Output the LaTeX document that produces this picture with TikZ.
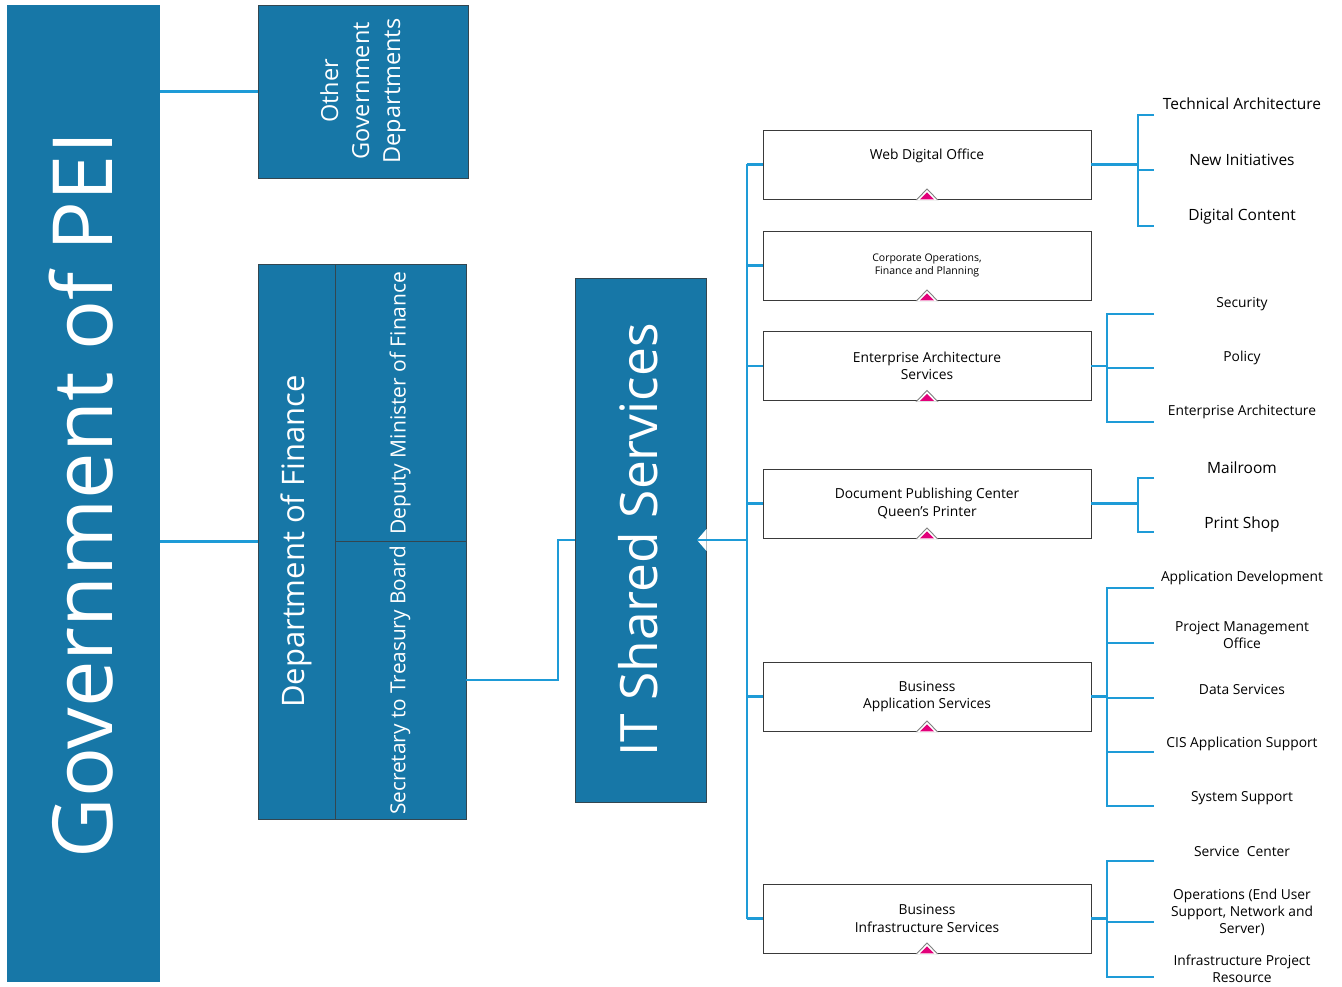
\documentclass[tikz,border=0pt]{standalone}
\usepackage{fontspec}
\setmainfont{Open Sans}
\definecolor{peiblue}{HTML}{1777A7}
\definecolor{linkblue}{HTML}{1E9BD7}
\definecolor{pinkmark}{HTML}{E2007A}
\definecolor{edge}{HTML}{3A3A3A}
\begin{document}
\begin{tikzpicture}[x=1pt,y=-1pt,
  bluebox/.style={fill=peiblue, draw=edge!80!peiblue, line width=0.8pt, text=white, inner sep=0pt, align=center},
  whitebox/.style={fill=white, draw=edge, line width=0.9pt, minimum width=328pt, minimum height=69pt, inner sep=0pt, align=center, font=\fontsize{13.8}{17.5}\selectfont},
  link/.style={draw=linkblue, line width=2.6pt},
  lab/.style={font=\fontsize{13.8}{17}\selectfont, align=center, inner sep=0pt},
  biglab/.style={lab, font=\fontsize{15.5}{18}\selectfont},
  trimark/.pic={
    \fill[gray] (-11.5,0.6) -- (0,-11) -- (11.5,0.6) -- cycle;
    \fill[white] (-10,0.6) -- (0,-9.5) -- (10,0.6) -- cycle;
    \fill[pinkmark] (-7,0) -- (0,-7) -- (7,0) -- cycle;
  }]
\useasboundingbox (0,0) rectangle (1342,987);
\fill[white] (0,0) rectangle (1342,987);

% left column
\node[bluebox, draw=none, minimum width=153pt, minimum height=977pt] (gov) at (83.5,493.5) {};
\node[rotate=90, text=white, font=\fontsize{83}{90}\selectfont, inner sep=0pt] (govt) at (81,495) {Government of PEI};

\node[bluebox, minimum width=210pt, minimum height=173pt] (other) at (363,91.5) {};
\node[rotate=90, text=white, align=center, font=\fontsize{23.5}{31}\selectfont, inner sep=0pt] (othert) at (363,91) {Other\\Government\\Departments};

\node[bluebox, minimum width=77pt, minimum height=555pt] (dept) at (296.5,541.5) {};
\node[rotate=90, text=white, font=\fontsize{31}{34}\selectfont, inner sep=0pt] (deptt) at (296,541.5) {Department of Finance};

\node[bluebox, minimum width=131pt, minimum height=277pt] (dep) at (400.5,402.5) {};
\node[rotate=90, text=white, font=\fontsize{21}{24}\selectfont, inner sep=0pt] (dept2) at (400,403) {Deputy Minister of Finance};

\node[bluebox, minimum width=131pt, minimum height=278pt] (sec) at (400.5,680) {};
\node[rotate=90, text=white, font=\fontsize{20.8}{24}\selectfont, inner sep=0pt] (sect) at (400,680.5) {Secretary to Treasury Board};

\node[bluebox, minimum width=131pt, minimum height=524pt] (it) at (640.5,540) {};
\node[rotate=90, text=white, font=\fontsize{51.5}{55}\selectfont, inner sep=0pt] (itt) at (638,540) {IT Shared Services};

% connectors left
\draw[link] (gov.east |- other.west) -- (other.west);
\draw[link] (gov.east |- dept.west) -- (dept.west);
\coordinate (elbow) at (558,0);
\draw[link] (sec.east) -- (sec.east -| elbow) -- (elbow |- it.west) -- (it.west);

% trunk
\coordinate (trunk) at (747,540);

% service boxes
\node[whitebox] (web) at (927,164.5) {};
\node[font=\fontsize{13.8}{17.5}\selectfont, inner sep=0pt] (webt) at (927,155.5) {Web Digital Office};
\node[whitebox, font=\fontsize{10.5}{13.5}\selectfont] (corp) at (927,265.5) {Corporate Operations,\\Finance and Planning};
\node[whitebox] (ea) at (927,366) {Enterprise Architecture\\Services};
\node[whitebox] (doc) at (927,503.5) {Document Publishing Center\\Queen’s Printer};
\node[whitebox] (app) at (927,696.5) {Business\\Application Services};
\node[whitebox] (inf) at (927,918.5) {Business\\Infrastructure Services};

\foreach \b in {web,corp,ea,doc,app,inf} {\pic at (\b.south) {trimark};}

\draw[link] (web.west -| trunk) -- (inf.west -| trunk);
\foreach \b in {web,corp,ea,doc,app,inf} {\draw[link] (\b.west -| trunk) -- (\b.west);}
\fill[white] (706.5,529) -- (697,540) -- (706.5,551) -- cycle;
\draw[link] (697,540) -- (trunk);

% right labels
\node[biglab] (l1) at (1242,104) {Technical Architecture};
\node[biglab] (l2) at (1242,160) {New Initiatives};
\node[biglab] (l3) at (1242,216) {Digital Content};
\node[lab] (l4) at (1242,304) {Security};
\node[lab] (l5) at (1242,358) {Policy};
\node[lab] (l6) at (1242,412) {Enterprise Architecture};
\node[biglab] (l7) at (1242,468) {Mailroom};
\node[biglab] (l8) at (1242,524) {Print Shop};
\node[lab] (l9) at (1242,578) {Application Development};
\node[lab] (l10) at (1242,634.5) {Project Management\\Office};
\node[lab] (l11) at (1242,689) {Data Services};
\node[lab] (l12) at (1242,744) {CIS Application Support};
\node[lab] (l13) at (1242,798) {System Support};
\node[lab] (l14) at (1242,851) {Service\ \ Center};
\node[lab] (l15) at (1242,912.5) {Operations (End User\\Support, Network and\\Server)};
\node[lab] (l16) at (1242,969) {Infrastructure Project\\Resource};

% right brackets
\coordinate (ba) at (1138,0);
\coordinate (bb) at (1107,0);
\coordinate (te) at (1154,0);
% web
\draw[link] (web.east) -- (web.east -| ba);
\draw[link] (te |- 0,115) -- (ba |- 0,115) -- (ba |- 0,226) -- (te |- 0,226);
\draw[link] (ba |- 0,170) -- (te |- 0,170);
% ea
\draw[link] (ea.east) -- (ea.east -| bb);
\draw[link] (te |- 0,314) -- (bb |- 0,314) -- (bb |- 0,422) -- (te |- 0,422);
\draw[link] (bb |- 0,368) -- (te |- 0,368);
% doc
\draw[link] (doc.east) -- (doc.east -| ba);
\draw[link] (te |- 0,478) -- (ba |- 0,478) -- (ba |- 0,532) -- (te |- 0,532);
% app
\draw[link] (app.east) -- (app.east -| bb);
\draw[link] (te |- 0,588) -- (bb |- 0,588) -- (bb |- 0,806) -- (te |- 0,806);
\foreach \y in {643,698,752} {\draw[link] (bb |- 0,\y) -- (te |- 0,\y);}
% inf
\draw[link] (inf.east) -- (inf.east -| bb);
\draw[link] (te |- 0,861) -- (bb |- 0,861) -- (bb |- 0,977) -- (te |- 0,977);
\draw[link] (bb |- 0,922) -- (te |- 0,922);
\end{tikzpicture}
\end{document}
